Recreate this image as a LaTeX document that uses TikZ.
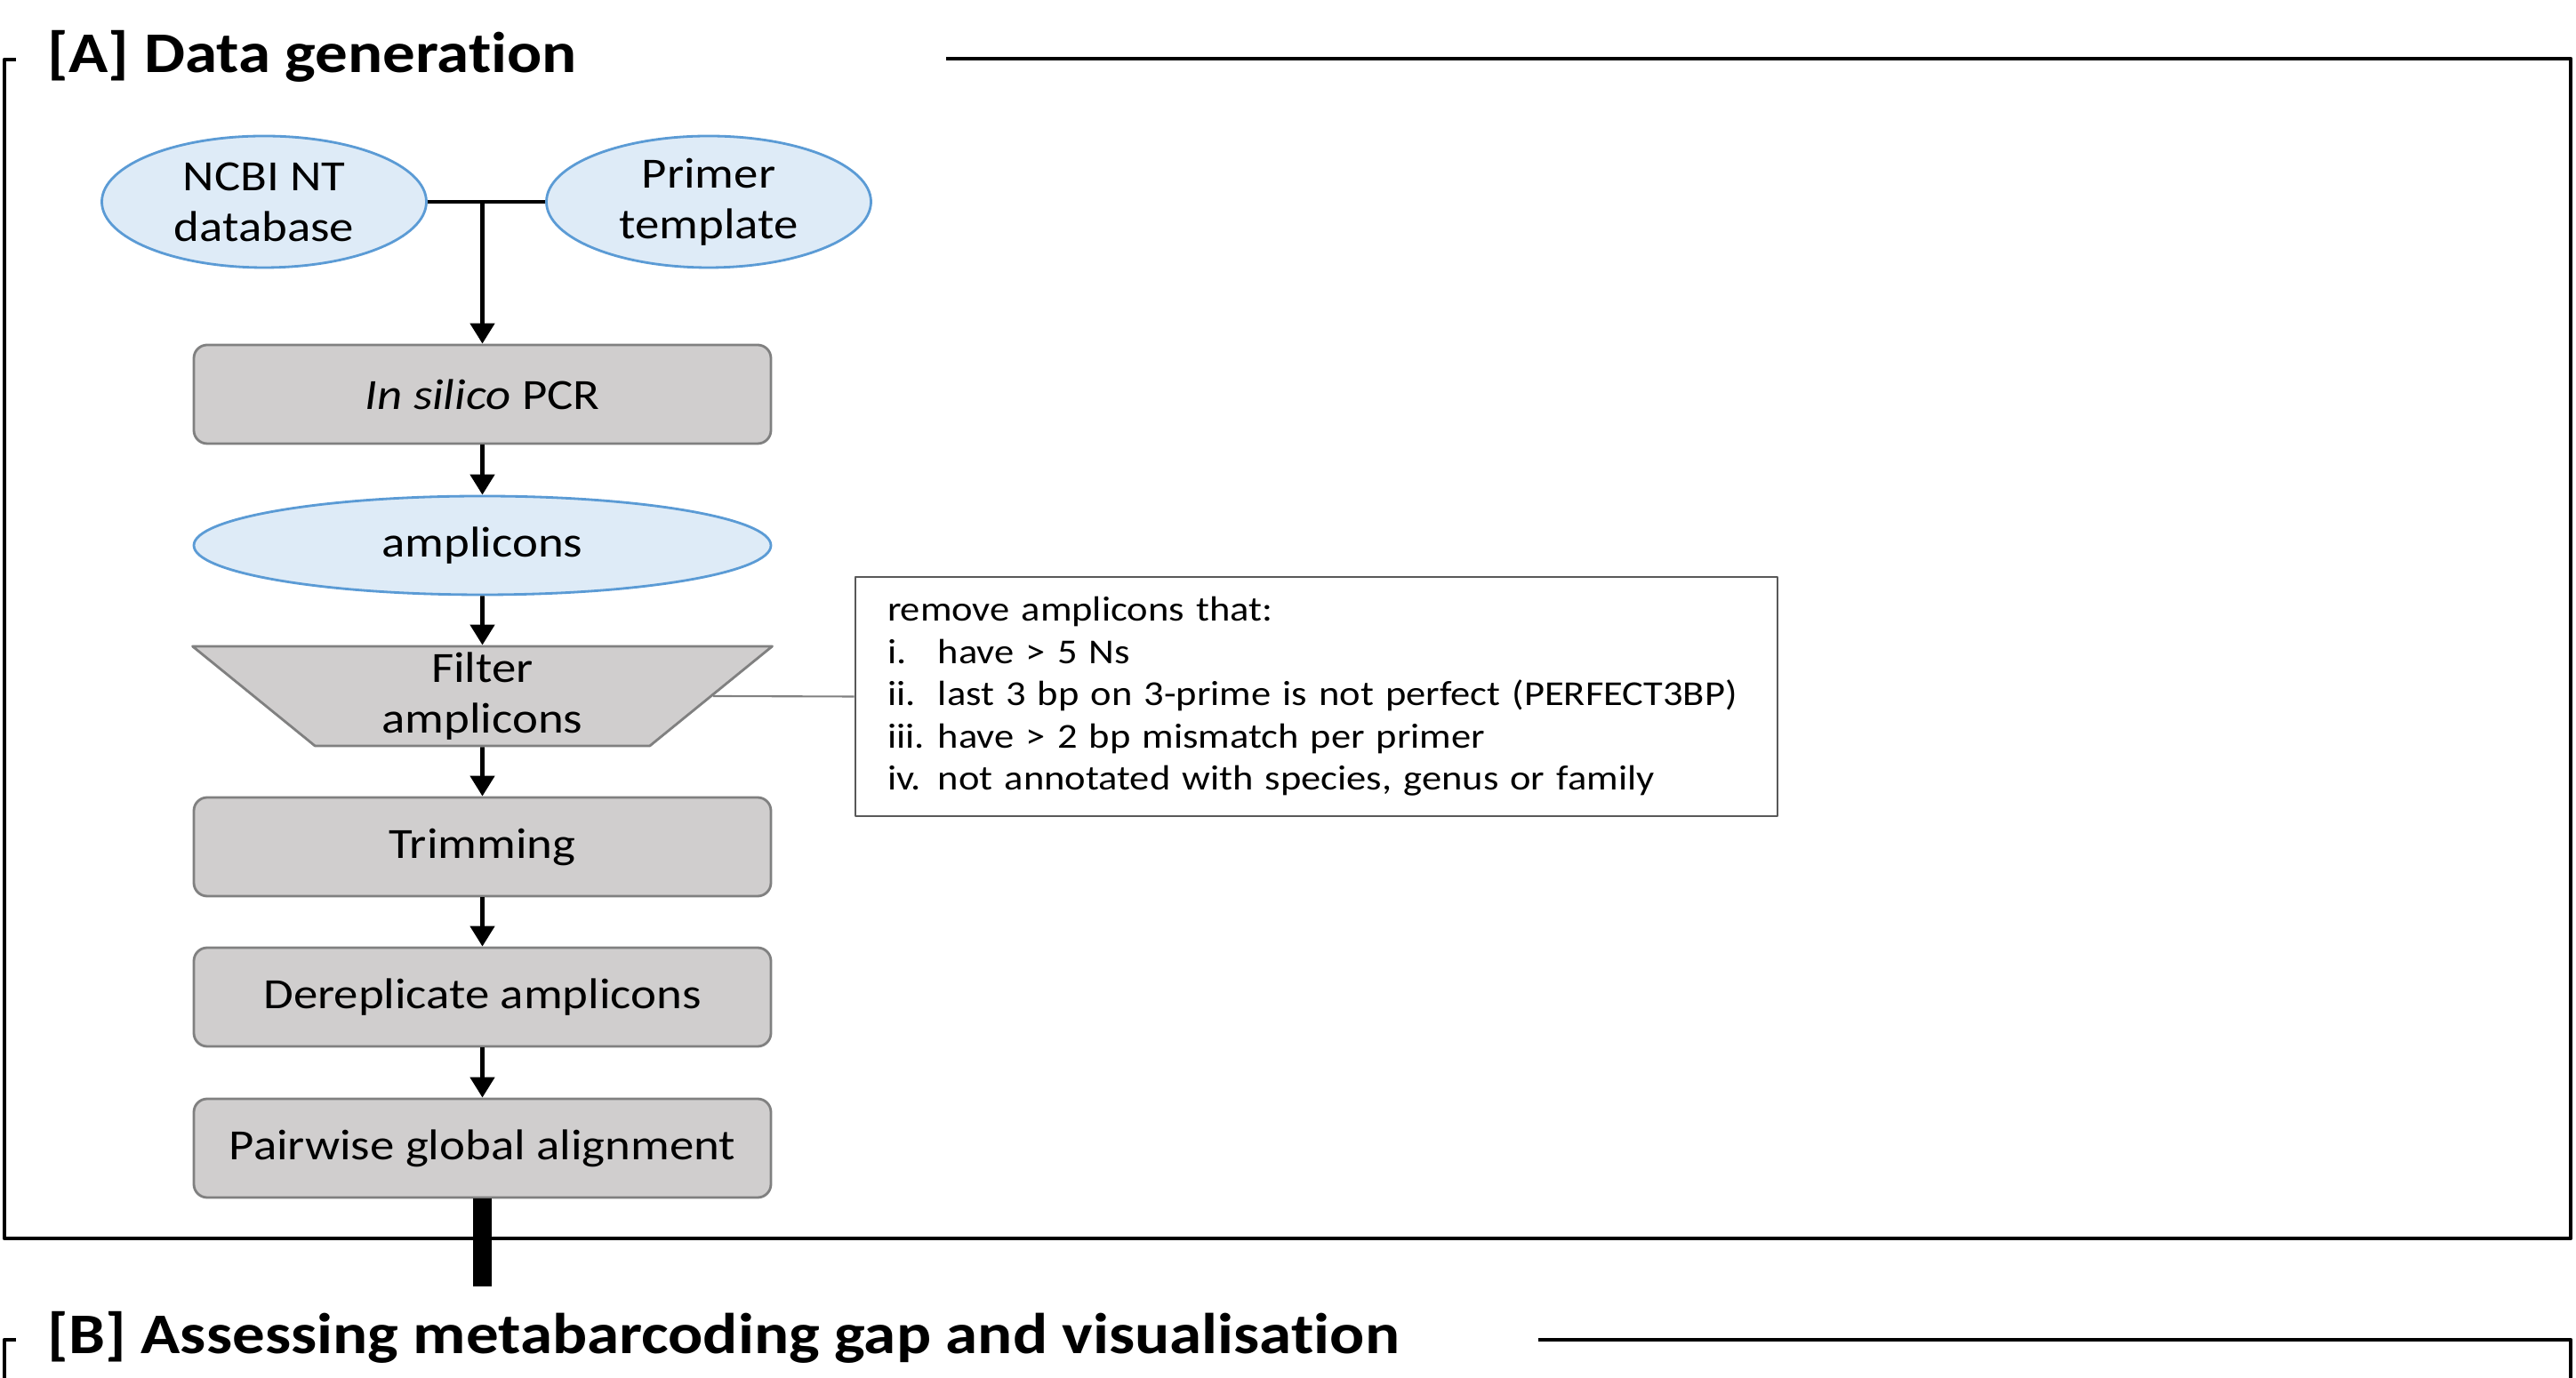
\documentclass[tikz,border=0pt]{standalone}
\usepackage{fontspec}
\setmainfont{Carlito}[FakeStretch=1.13,Ligatures=NoCommon]
\usetikzlibrary{shapes.geometric,arrows.meta}
\definecolor{dbblue}{HTML}{DEEBF7}
\definecolor{dbedge}{HTML}{5B9BD5}
\definecolor{stepgray}{HTML}{D0CECE}
\definecolor{stepedge}{HTML}{808080}
\definecolor{noteedge}{HTML}{595959}
\newcommand{\itm}[2]{\makebox[0.57cm][l]{#1}#2}
\begin{document}
\begin{tikzpicture}[>={Triangle[width=2.7mm,length=2.3mm]},line join=round,
	font=\fontsize{13.8}{16.2}\selectfont,
	data/.style={ellipse,draw=dbedge,fill=dbblue,line width=.8pt,minimum width=3.65cm,minimum height=1.48cm,inner sep=0pt,align=center},
	stepbox/.style={rectangle,rounded corners=1.5mm,draw=stepedge,fill=stepgray,line width=.8pt,minimum width=6.49cm,minimum height=1.11cm,inner sep=0pt,align=center},
	flow/.style={line width=1.4pt},
	frame/.style={line width=1.2pt},
	heading/.style={anchor=base west,inner sep=0pt,font=\fontsize{18.4}{21}\selectfont\bfseries}]
	\useasboundingbox (0,0) rectangle (28.97,15.5);
	\draw[frame] (0.18,14.83) -| (0.05,1.57) -| (28.91,14.84) -- (10.64,14.84);
	\draw[frame] (0.18,0.43) -| (0.05,-0.2);
	\draw[frame] (17.30,0.43) -| (28.91,-0.2);
	\node[heading] (titleA) at (0.53,14.683) {[A] Data generation};
	\node[heading] (titleB) at (0.53,0.27) {[B] Assessing metabarcoding gap and visualisation};
	\node[data] (ncbi) at (2.97,13.23) {NCBI NT\\database};
	\node[data] (primer) at (7.97,13.23) {Primer\\template};
	\node[stepbox] (pcr) at (5.425,11.065) {\textit{In silico} PCR};
	\node[data,minimum width=6.49cm,minimum height=1.11cm] (amp) at (5.425,9.365) {amplicons};
	\node[trapezium,shape border rotate=180,trapezium angle=51.5,trapezium stretches=true,
		minimum width=6.52cm,minimum height=1.12cm,inner sep=0.5mm,draw=stepedge,fill=stepgray,
		line width=.8pt,align=center] (filt) at (5.425,7.67) {Filter\\amplicons};
	\node[stepbox] (trim) at (5.425,5.975) {Trimming};
	\node[stepbox] (derep) at (5.425,4.285) {Dereplicate amplicons};
	\node[stepbox] (pair) at (5.425,2.585) {Pairwise global alignment};
	\node[draw=noteedge,line width=.8pt,minimum height=2.69cm,text width=9.65cm,inner xsep=0.36cm,
		align=left,font=\fontsize{11.2}{13.5}\selectfont] (rules) at (14.805,7.665)
		{remove amplicons that:\\
		\itm{i.}{have > 5 Ns}\\
		\itm{ii.}{last 3 bp on 3-prime is not perfect (PERFECT3BP)}\\
		\itm{iii.}{have > 2 bp mismatch per primer}\\
		\itm{iv.}{not annotated with species, genus or family}};
	\coordinate (jn) at (ncbi.east -| pcr.north);
	\coordinate (tail) at (5.425,1.03);
	\draw[flow] (ncbi) -- (primer);
	\draw[flow,->] (jn) -- (pcr);
	\foreach \a/\b in {pcr/amp,amp/filt,filt/trim,trim/derep,derep/pair} \draw[flow,->] (\a) -- (\b);
	\draw[stepedge,line width=.6pt] (filt.east) -- (rules.west);
	\draw[line width=0.21cm] (pair) -- (tail);
\end{tikzpicture}
\end{document}
